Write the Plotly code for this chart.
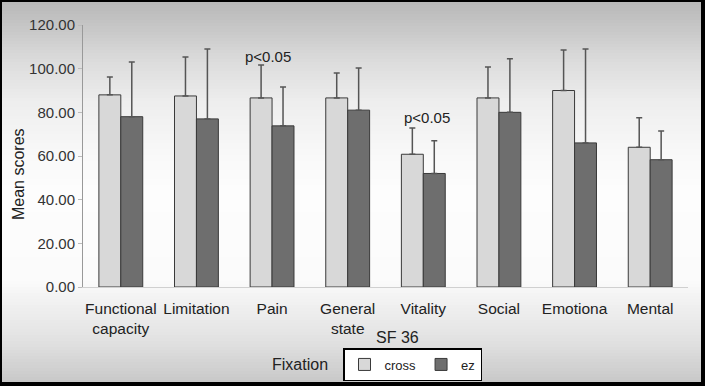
import plotly.graph_objects as go

categories = ["Functional<br>capacity", "Limitation", "Pain", "General<br>state",
              "Vitality", "Social", "Emotiona", "Mental"]
cross_mean = [88.0, 87.5, 86.6, 86.6, 60.8, 86.6, 90.0, 64.0]
cross_upper = [96.2, 105.4, 101.7, 98.0, 72.8, 100.8, 108.6, 77.5]
ez_mean = [78.0, 77.0, 73.8, 81.0, 52.0, 80.0, 66.0, 58.3]
ez_upper = [103.0, 109.0, 91.6, 100.3, 67.0, 104.5, 109.0, 71.5]
sig_categories = ["Pain", "Vitality"]
sig_texts = ["p<0.05", "p<0.05"]
sig_levels = [105.5, 77.5]
y_ticks = [0, 20, 40, 60, 80, 100, 120]

W, H = 705, 386
L, R, T, B = 83, 17, 25, 99
PW, PH = W - L - R, H - T - B

def px_x(p):
    return (p - L) / PW

def px_y(p):
    return (H - B - p) / PH

font = "Liberation Sans, Arial, sans-serif"

fig = go.Figure()
fig.add_trace(go.Bar(
    name="cross", x=categories, y=cross_mean,
    marker=dict(color="#d8d8d8", line=dict(color="#3a3a3a", width=1)),
    error_y=dict(type="data", symmetric=False,
                 array=[u - m for u, m in zip(cross_upper, cross_mean)],
                 arrayminus=[0] * len(cross_mean),
                 color="#555555", thickness=1.5, width=3),
))
fig.add_trace(go.Bar(
    name="ez", x=categories, y=ez_mean,
    marker=dict(color="#6e6e6e", line=dict(color="#3a3a3a", width=1)),
    error_y=dict(type="data", symmetric=False,
                 array=[u - m for u, m in zip(ez_upper, ez_mean)],
                 arrayminus=[0] * len(ez_mean),
                 color="#555555", thickness=1.5, width=3),
))

# background: black frame + vertical gradient (overlapping strips)
shapes = [dict(type="rect", xref="paper", yref="paper", layer="below",
               x0=px_x(0), x1=px_x(W), y0=px_y(H), y1=px_y(0),
               fillcolor="black", line=dict(width=0))]

def bg_level(y):
    stops = [(2, 0xb8), (30, 0xc8), (60, 0xdb), (100, 0xed), (150, 0xf8),
             (190, 0xfd), (280, 0xfb), (300, 0xf2), (340, 0xe2), (382, 0xc8)]
    for (y0, c0), (y1, c1) in zip(stops, stops[1:]):
        if y0 <= y <= y1:
            t = (y - y0) / (y1 - y0)
            return int(round(c0 + (c1 - c0) * t))
    return stops[-1][1]

step = 3
yy = 2
while yy < 382:
    c = bg_level(yy + step / 2)
    col = f"rgb({c},{c},{c})"
    shapes.append(dict(type="rect", xref="paper", yref="paper", layer="below",
                       x0=px_x(2), x1=px_x(701), y0=px_y(382), y1=px_y(yy),
                       fillcolor=col, line=dict(width=0)))
    yy += step

annotations = []
shifts = [-4, 4]
for cat, txt, yv, sh in zip(sig_categories, sig_texts, sig_levels, shifts):
    annotations.append(dict(x=cat, y=yv, xref="x", yref="y", text=txt,
                            showarrow=False, font=dict(size=15, color="#222"),
                            xshift=sh, xanchor="center", yanchor="middle"))
annotations.append(dict(x=px_x(397), y=px_y(337), xref="paper", yref="paper",
                        text="SF 36", showarrow=False,
                        xanchor="center", yanchor="middle",
                        font=dict(size=16, color="#222")))
annotations.append(dict(x=px_x(300), y=px_y(364), xref="paper", yref="paper",
                        text="Fixation", showarrow=False,
                        xanchor="center", yanchor="middle",
                        font=dict(size=16, color="#222")))
annotations.append(dict(x=px_x(18), y=px_y(174), xref="paper", yref="paper",
                        text="Mean scores", showarrow=False, textangle=-90,
                        xanchor="center", yanchor="middle",
                        font=dict(size=16, color="#222")))

fig.update_layout(
    width=W, height=H,
    margin=dict(l=L, r=R, t=T, b=B, autoexpand=False),
    paper_bgcolor="rgba(0,0,0,0)",
    plot_bgcolor="rgba(0,0,0,0)",
    barmode="group", bargap=0.42, bargroupgap=0,
    font=dict(family=font, size=15, color="#222"),
    shapes=shapes, annotations=annotations,
    showlegend=True,
    legend=dict(orientation="h", x=px_x(343), y=px_y(348),
                xanchor="left", yanchor="top", itemwidth=30,
                bgcolor="white", bordercolor="black", borderwidth=1.5,
                font=dict(size=13, color="#222"), traceorder="normal"),
    xaxis=dict(showline=True, linecolor="#d0d0d0", linewidth=1,
               ticks="", tickfont=dict(size=15.5, color="#222"),
               ticklabelstandoff=7, showgrid=False, automargin=False),
    yaxis=dict(range=[0, 120], tickvals=y_ticks, tickformat=".2f",
               showline=True, linecolor="#999999", linewidth=1,
               ticks="outside", ticklen=4, tickcolor="#bbbbbb",
               tickfont=dict(size=15, color="#333"), automargin=False,
               showgrid=False, zeroline=False),
)

fig.write_html("out.html", config={"displayModeBar": False},
               post_script="document.body.style.margin='0';document.body.style.overflow='hidden';")
